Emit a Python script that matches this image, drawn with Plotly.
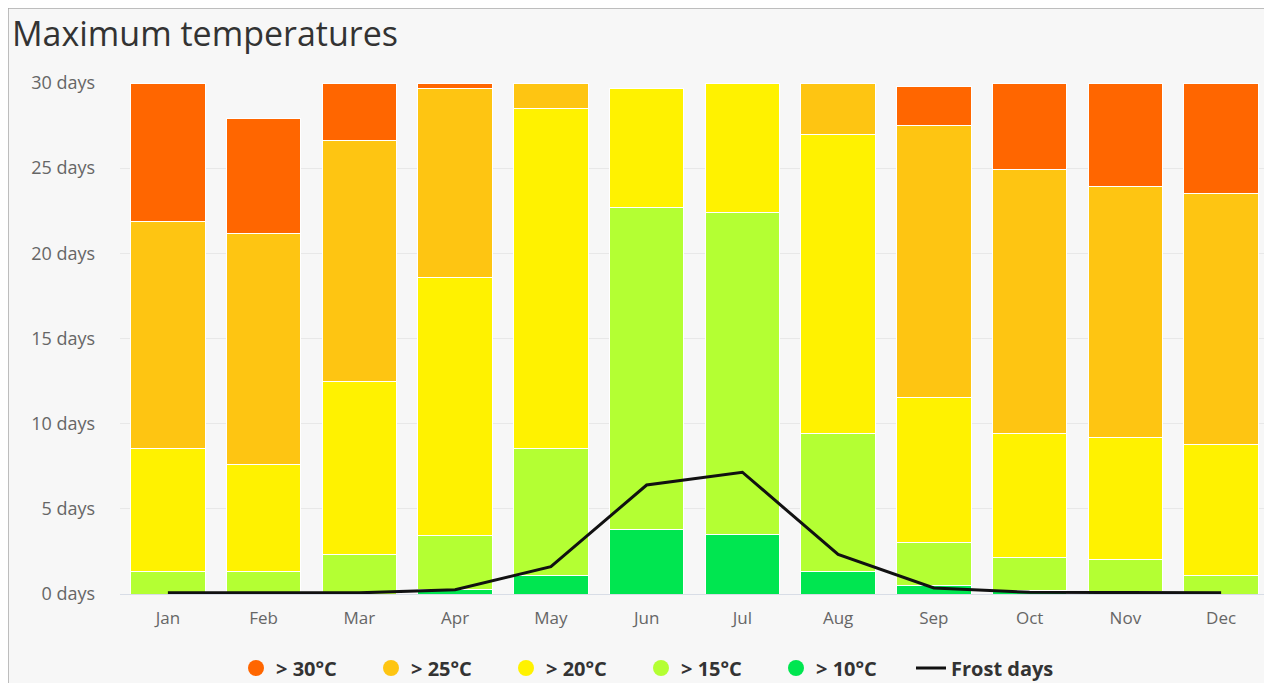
import plotly.graph_objects as go

months = ["Jan", "Feb", "Mar", "Apr", "May", "Jun", "Jul", "Aug", "Sep", "Oct", "Nov", "Dec"]

# days per band (stacked, bottom to top)
above_10 = [0, 0, 0, 0.25, 1.1, 3.8, 3.5, 1.3, 0.5, 0.2, 0.15, 0]
above_15 = [1.3, 1.3, 2.3, 3.2, 7.45, 18.9, 18.9, 8.1, 2.5, 1.95, 1.85, 1.1]
above_20 = [7.25, 6.3, 10.15, 15.15, 19.95, 6.95, 7.6, 17.55, 8.55, 7.25, 7.2, 7.7]
above_25 = [13.3, 13.55, 14.15, 11.1, 1.5, 0, 0, 3.05, 15.95, 15.5, 14.75, 14.7]
above_30 = [8.15, 6.75, 3.4, 0.3, 0, 0, 0, 0, 2.3, 5.1, 6.05, 6.5]
frost_days = [0.07, 0.07, 0.07, 0.25, 1.6, 6.4, 7.15, 2.32, 0.35, 0.1, 0.07, 0.07]

series = [
    ("> 10°C", above_10, "#00e650", 5),
    ("> 15°C", above_15, "#b4ff33", 4),
    ("> 20°C", above_20, "#fff200", 3),
    ("> 25°C", above_25, "#fec512", 2),
    ("> 30°C", above_30, "#ff6600", 1),
]

y_ticks = [0, 5, 10, 15, 20, 25, 30]
y_labels = ["0 days", "5 days", "10 days", "15 days", "20 days", "25 days", "30 days"]

W, H = 1264, 675
LEG_Y = 1 - 660 / H
legend_font = dict(family="Open Sans", size=20, color="#333333", weight="bold")

fig = go.Figure()
for name, vals, color, rank in series:
    fig.add_trace(go.Bar(
        x=months, y=vals, name=name, marker=dict(color=color, line=dict(color="#ffffff", width=1)),
        showlegend=False, legendgroup=name,
    ))
    fig.add_trace(go.Scatter(
        x=[None], y=[None], mode="markers", name=name, legendgroup=name, legendrank=rank,
        marker=dict(color=color, size=19, symbol="circle"),
    ))

fig.add_trace(go.Scatter(
    x=months, y=frost_days, mode="lines", name="Frost days", legend="legend2",
    line=dict(color="#111111", width=3),
))

fig.update_layout(
    width=W, height=H,
    margin=dict(l=112, r=3, t=75, b=89),
    barmode="stack", bargap=0.22,
    paper_bgcolor="#f7f7f7", plot_bgcolor="rgba(0,0,0,0)",
    title=dict(text="Maximum temperatures", x=4 / W, xanchor="left", xref="container",
               y=1 - 26 / H, yanchor="middle", yref="container",
               font=dict(family="Open Sans", size=34, color="#333333")),
    font=dict(family="Open Sans", size=17, color="#666666"),
    xaxis=dict(showgrid=False, showline=True, linecolor="#d8dde6", linewidth=1, ticks="",
               ticklabelstandoff=9, tickfont=dict(size=17, color="#666666"), fixedrange=True),
    yaxis=dict(range=[0, 30], tickvals=y_ticks, ticktext=y_labels, gridcolor="#e8e8e8", gridwidth=1,
               zeroline=False, ticks="", ticklabelstandoff=24, tickfont=dict(size=18, color="#666666")),
    legend=dict(orientation="h", xref="container", yref="container",
                x=228 / W, xanchor="left", y=LEG_Y, yanchor="middle",
                font=legend_font, bgcolor="rgba(0,0,0,0)", itemwidth=30, entrywidth=90),
    legend2=dict(orientation="h", xref="container", yref="container",
                 x=903 / W, xanchor="left", y=LEG_Y, yanchor="middle",
                 font=legend_font, bgcolor="rgba(0,0,0,0)", itemwidth=30),
    shapes=[dict(type="line", xref="paper", yref="paper", x0=-112 / 1149, x1=-112 / 1149, y0=-0.2, y1=1.2,
                 line=dict(color="#aaaaaa", width=1.5)),
            dict(type="line", xref="paper", yref="paper", x0=-0.1, x1=1.1, y0=1 + 75 / 511, y1=1 + 75 / 511,
                 line=dict(color="#aaaaaa", width=1.5))],
    showlegend=True,
)

fig.write_html("out.html")
